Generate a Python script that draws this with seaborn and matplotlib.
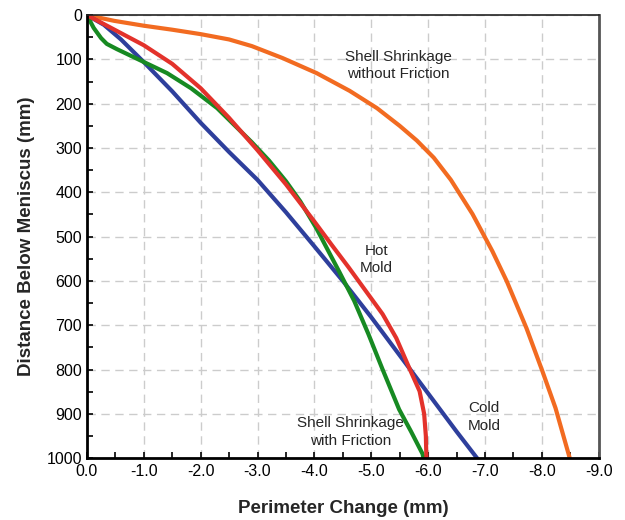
import numpy as np
import pandas as pd
import matplotlib
matplotlib.use("Agg")
import matplotlib.pyplot as plt
from matplotlib.ticker import MultipleLocator, FormatStrFormatter
import seaborn as sns

# perimeter change (mm) vs distance below meniscus (mm)
orange_x = [0.0, -0.48, -1.0, -1.5, -2.0, -2.5, -2.9, -3.44, -4.04, -4.62, -5.1, -5.5, -5.8, -6.1,
            -6.4, -6.78, -7.13, -7.38, -7.73, -8.01, -8.24, -8.49]
orange_y = [0, 13, 24, 33, 43, 55, 70, 97, 131, 171, 210, 250, 283, 322, 372, 449, 533, 600, 707,
            804, 887, 1000]

red_x = [0.0, -0.5, -1.0, -1.5, -2.0, -2.5, -3.0, -3.5, -4.0, -4.3, -4.6, -4.9, -5.2, -5.44,
         -5.67, -5.85, -5.93, -5.96, -5.97]
red_y = [0, 34, 68, 110, 165, 232, 305, 382, 466, 518, 569, 622, 675, 729, 797, 849, 900, 950,
         1000]

blue_x = [0.0, -0.3, -0.6, -1.0, -1.5, -2.0, -2.5, -3.0, -3.5, -4.0, -4.5, -5.0, -5.5, -6.0,
          -6.5, -6.86]
blue_y = [0, 22, 55, 106, 172, 243, 309, 372, 445, 522, 600, 682, 768, 854, 940, 1000]

green_x = [0.0, -0.12, -0.25, -0.35, -0.53, -0.97, -1.41, -1.83, -2.29, -2.9, -3.2, -3.5, -3.75,
           -4.03, -4.44, -4.7, -4.95, -5.2, -5.49, -5.7, -5.9, -5.92]
green_y = [0, 29, 52, 65, 77, 104, 131, 165, 210, 287, 328, 375, 420, 480, 580, 645, 720, 800,
           890, 940, 990, 1000]

sns.set_style("white")
plt.rcParams['font.family'] = ['Liberation Sans', 'DejaVu Sans']

fig = plt.figure(figsize=(6.25, 5.2), dpi=100)
ax = fig.add_axes([0.139, 0.119, 0.819, 0.852])

series = [
    (orange_x, orange_y, '#f26b21'),
    (blue_x, blue_y, '#2e3f9c'),
    (green_x, green_y, '#178a22'),
    (red_x, red_y, '#e3322b'),
]
for xs, ys, col in series:
    sns.lineplot(x=xs, y=ys, sort=False, estimator=None, color=col, lw=3, ax=ax)

ax.set_xlim(0, -9)
ax.set_ylim(1000, 0)
ax.xaxis.set_major_locator(MultipleLocator(1))
ax.xaxis.set_minor_locator(MultipleLocator(0.5))
ax.yaxis.set_major_locator(MultipleLocator(100))
ax.yaxis.set_minor_locator(MultipleLocator(50))
ax.xaxis.set_major_formatter(FormatStrFormatter('%.1f'))
ax.grid(True, which='major', color='#cccccc', ls=(0, (6, 4)), lw=1)
ax.tick_params(which='both', direction='in', length=4, width=1.2, labelsize=11.5,
               bottom=True, left=True, colors='black')
ax.tick_params(axis='x', pad=4)

for s in ['left', 'bottom']:
    ax.spines[s].set_linewidth(2)
    ax.spines[s].set_color('black')
ax.spines['top'].set_linewidth(1.2)
ax.spines['top'].set_color('#222222')
ax.spines['right'].set_linewidth(2)
ax.spines['right'].set_color('#555555')

ax.set_xlabel('Perimeter Change (mm)', fontsize=13.5, fontweight='bold', labelpad=15)
ax.set_ylabel('Distance Below Meniscus (mm)', fontsize=13.5, fontweight='bold', labelpad=8)

txt = dict(fontsize=11, ha='center', va='center', linespacing=1.3)
ax.text(-5.47, 114, 'Shell Shrinkage\nwithout Friction', **txt)
ax.text(-5.09, 552, 'Hot\nMold', **txt)
ax.text(-6.98, 907, 'Cold\nMold', **txt)
ax.text(-4.63, 941, 'Shell Shrinkage\nwith Friction', **txt)

fig.savefig('out.png', dpi=100)
